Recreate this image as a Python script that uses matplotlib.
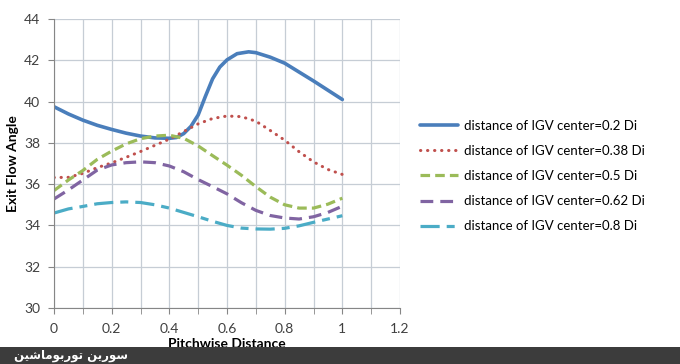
import matplotlib
matplotlib.use("Agg")
import matplotlib.pyplot as plt
from matplotlib.ticker import MultipleLocator
from matplotlib.patches import Rectangle

plt.rcParams['font.family'] = ['Lato', 'DejaVu Sans']

# pitchwise positions
x = [0, 0.05, 0.1, 0.15, 0.2, 0.25, 0.3, 0.35, 0.4, 0.45, 0.5,
     0.55, 0.6, 0.65, 0.7, 0.75, 0.8, 0.85, 0.9, 0.95, 1.0]
x_02 = [0, 0.05, 0.1, 0.15, 0.2, 0.25, 0.3, 0.35, 0.4, 0.425, 0.45, 0.475, 0.5,
        0.525, 0.55, 0.575, 0.6, 0.635, 0.675, 0.7, 0.75, 0.8, 0.85, 0.9, 0.95, 1.0]

# exit flow angle for each IGV center distance
y_02 = [39.75, 39.4, 39.1, 38.85, 38.65, 38.47, 38.33, 38.24, 38.22, 38.26, 38.45, 38.8, 39.35,
        40.25, 41.1, 41.67, 42.02, 42.32, 42.41, 42.37, 42.15, 41.86, 41.43, 41.0, 40.55, 40.1]
y_038 = [36.32, 36.33, 36.52, 36.8, 37.03, 37.3, 37.58, 37.88, 38.18, 38.55, 38.92,
         39.18, 39.3, 39.27, 39.05, 38.6, 38.13, 37.57, 37.08, 36.71, 36.47]
y_05 = [35.69, 36.2, 36.66, 37.2, 37.6, 37.95, 38.2, 38.33, 38.37, 38.22, 37.85,
        37.38, 36.92, 36.43, 35.88, 35.37, 35.0, 34.84, 34.84, 35.03, 35.32]
y_062 = [35.28, 35.72, 36.2, 36.68, 36.93, 37.04, 37.08, 37.04, 36.88, 36.6, 36.22,
         35.88, 35.53, 35.1, 34.73, 34.48, 34.36, 34.31, 34.42, 34.63, 34.93]
y_08 = [34.6, 34.8, 34.92, 35.05, 35.11, 35.14, 35.11, 35.0, 34.84, 34.63, 34.42,
        34.2, 34.0, 33.87, 33.83, 33.82, 33.86, 33.98, 34.15, 34.31, 34.47]

labels = ["distance of IGV center=0.2 Di", "distance of IGV center=0.38 Di",
          "distance of IGV center=0.5 Di", "distance of IGV center=0.62 Di",
          "distance of IGV center=0.8 Di"]
xticklabels = ['0', '0.2', '0.4', '0.6', '0.8', '1', '1.2']

fig = plt.figure(figsize=(6.8, 3.64), dpi=100)
ax = fig.add_axes([54/680, 1-308/364, 346/680, 289/364])

lw = 2.3
ax.plot(x_02, y_02, color='#4a7ebb', lw=2.6, label=labels[0], solid_capstyle='round')
ax.plot(x, y_038, color='#c0504d', lw=2.2, ls=(0, (0.1, 2.2)), dash_capstyle='round', label=labels[1])
ax.plot(x, y_05, color='#9bbb59', lw=lw, ls=(0, (3, 1.6)), label=labels[2])
ax.plot(x, y_062, color='#8064a2', lw=lw, ls=(0, (4, 2.2)), label=labels[3])
ax.plot(x, y_08, color='#4bacc6', lw=lw, ls=(0, (6, 2.2, 2.5, 2.2)), label=labels[4])

ax.set_xlim(0, 1.2)
ax.set_ylim(30, 44)
ax.set_xticks([0, 0.2, 0.4, 0.6, 0.8, 1.0, 1.2])
ax.set_xticklabels(xticklabels)
ax.xaxis.set_minor_locator(MultipleLocator(0.1))
ax.yaxis.set_major_locator(MultipleLocator(2))

ax.grid(True, which='both', axis='x', color='#c6cdd5', lw=0.9)
ax.grid(True, which='major', axis='y', color='#c6cdd5', lw=0.9)
ax.set_axisbelow(True)
for s in ['top', 'right']:
    ax.spines[s].set_visible(False)
for s in ['left', 'bottom']:
    ax.spines[s].set_color('#868686')
ax.tick_params(which='both', direction='out', color='#868686', length=4,
               labelsize=10, labelcolor='#404040')
ax.tick_params(axis='x', pad=7)
ax.tick_params(axis='y', pad=6)

ax.set_xlabel("Pitchwise Distance", fontsize=10, fontweight='bold')
ax.set_ylabel("Exit Flow Angle", fontsize=10, fontweight='bold')
ax.xaxis.set_label_coords(0.5, (308-338)/289)
ax.yaxis.set_label_coords((19-54)/346, 0.5)

ax.legend(loc='center left', bbox_to_anchor=(420/680, 1-176/364), bbox_transform=fig.transFigure,
          frameon=False, fontsize=9.5, handlelength=2.9, handletextpad=0.4,
          labelspacing=1.0, borderpad=0, borderaxespad=0)

# watermark banner at the bottom
fig.patches.append(Rectangle((0, 0), 1, 17/364, transform=fig.transFigure,
                             facecolor='#3c3c3c', edgecolor='none', zorder=10))
banner = ('\uFEE6\uFEF4\uFEB7\uFE8E\uFEE3\uFEEE\uFE91\uFEAD\uFEEE\uFE97'
          ' \uFEE6\uFEF3\uFEAD\uFEEE\uFEB3')
fig.text(14/680, 8.5/364, banner, color='white', fontsize=8.5, fontweight='bold',
         family=['DejaVu Sans'], va='center', ha='left', zorder=11)

fig.savefig("out.png", dpi=100)
